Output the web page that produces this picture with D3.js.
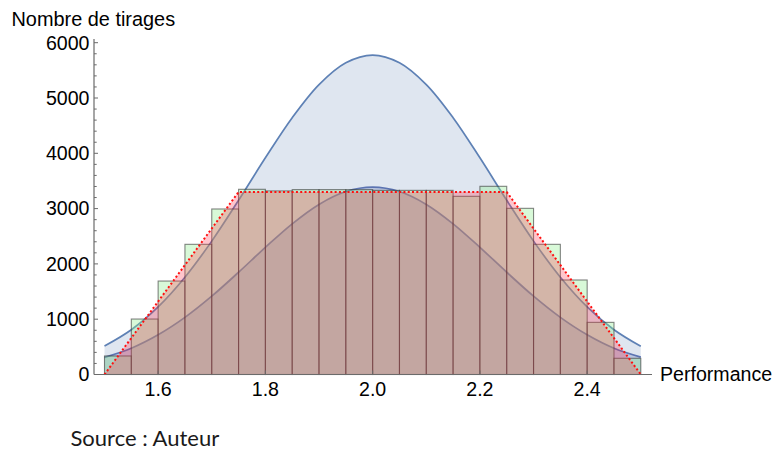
<!DOCTYPE html>
<html>
<head>
<meta charset="utf-8">
<script src="https://cdn.jsdelivr.net/npm/d3@7"></script>
<style>
  html, body { margin: 0; padding: 0; background: #fff; }
  svg { display: block; }
</style>
</head>
<body>
<svg id="chart" width="774" height="450"></svg>
<script>
// ---- data ----
const binEdges = [1.5, 1.55, 1.6, 1.65, 1.7, 1.75, 1.8, 1.85, 1.9, 1.95, 2.0,
                  2.05, 2.1, 2.15, 2.2, 2.25, 2.3, 2.35, 2.4, 2.45, 2.5];
const drawCounts = [335, 1003, 1690, 2354, 2993, 3349, 3320, 3343, 3343, 3343,
                    3330, 3330, 3330, 3222, 3403, 3005, 2354, 1709, 943, 293];
const curveX = [1.5, 1.55, 1.6, 1.65, 1.7, 1.75, 1.8, 1.85, 1.9, 1.95, 2.0,
                2.05, 2.1, 2.15, 2.2, 2.25, 2.3, 2.35, 2.4, 2.45, 2.5];
const bigCurve = [515, 810, 1223, 1760, 2412, 3150, 3918, 4644, 5243, 5638, 5777,
                  5638, 5243, 4644, 3918, 3150, 2412, 1760, 1223, 810, 510];
const smallCurve = [310, 475, 718, 1033, 1416, 1849, 2299, 2725, 3076, 3309, 3390,
                    3309, 3076, 2725, 2299, 1849, 1416, 1033, 718, 475, 315];
const trapX = [1.5, 1.75, 2.25, 2.5];
const trapY = [0, 3300, 3300, 0];
const xTicks = [1.6, 1.8, 2.0, 2.2, 2.4];
const yTicks = [0, 1000, 2000, 3000, 4000, 5000, 6000];
const yMinorTicks = d3.range(0, 6001, 200);
const yTitle = "Nombre de tirages";
const xTitle = "Performance";
const sourceText = "Source : Auteur";

// ---- layout ----
const svg = d3.select("#chart");
const x = d3.scaleLinear().domain([1.5, 2.5]).range([104.5, 640.8]);
const y = d3.scaleLinear().domain([0, 6000]).range([374.5, 42.7]);
const axisLeftX = 94, axisRightX = 652, axisTopY = 39;

const blue = "#5e81b5";

// gaussian fills
const area = (vals) => d3.area()
  .x((d, i) => x(curveX[i])).y0(y(0)).y1(d => y(d))
  .curve(d3.curveCatmullRom)(vals);
const line = (vals) => d3.line()
  .x((d, i) => x(curveX[i])).y(d => y(d))
  .curve(d3.curveCatmullRom)(vals);

svg.append("path").attr("d", area(bigCurve)).attr("fill", blue).attr("fill-opacity", 0.2);
svg.append("path").attr("d", area(smallCurve)).attr("fill", "#5a6fb0").attr("fill-opacity", 0.26);
svg.append("path").attr("d", line(bigCurve)).attr("fill", "none").attr("stroke", blue).attr("stroke-width", 1.7);
svg.append("path").attr("d", line(smallCurve)).attr("fill", "none").attr("stroke", "#5c74b2").attr("stroke-width", 1.7);

// histogram bars
const bars = drawCounts.map((v, i) => ({x0: binEdges[i], x1: binEdges[i + 1], v}));
svg.append("g").selectAll("rect").data(bars).join("rect")
  .attr("x", d => x(d.x0))
  .attr("y", d => y(d.v))
  .attr("width", d => x(d.x1) - x(d.x0))
  .attr("height", d => y(0) - y(d.v))
  .attr("fill", "#90ee90").attr("fill-opacity", 0.35)
  .attr("stroke", "#333").attr("stroke-opacity", 0.6).attr("stroke-width", 1.1);

// trapezoid (theoretical) fill + dotted outline
const trapPts = trapX.map((v, i) => [x(v), y(trapY[i])]);
svg.append("path")
  .attr("d", d3.line()(trapPts) + "Z")
  .attr("fill", "#ff3048").attr("fill-opacity", 0.28).attr("stroke", "none");
svg.append("path")
  .attr("d", d3.line()(trapPts))
  .attr("fill", "none").attr("stroke", "#ff1010").attr("stroke-width", 2)
  .attr("stroke-dasharray", "2,2.3");

// axes
const axisColor = "#6b6b6b";
svg.append("line").attr("x1", axisLeftX).attr("x2", axisLeftX)
  .attr("y1", y(0)).attr("y2", axisTopY).attr("stroke", axisColor).attr("stroke-width", 1.2);
svg.append("line").attr("x1", axisLeftX).attr("x2", axisRightX)
  .attr("y1", y(0)).attr("y2", y(0)).attr("stroke", axisColor).attr("stroke-width", 1.2);

svg.append("g").selectAll("line").data(yMinorTicks).join("line")
  .attr("x1", axisLeftX).attr("x2", d => axisLeftX + (d % 1000 === 0 ? 4 : 2.7))
  .attr("y1", d => y(d)).attr("y2", d => y(d))
  .attr("stroke", axisColor).attr("stroke-width", 1);

svg.append("g").selectAll("line").data(xTicks).join("line")
  .attr("x1", d => x(d)).attr("x2", d => x(d))
  .attr("y1", y(0)).attr("y2", y(0) - 4)
  .attr("stroke", axisColor).attr("stroke-width", 1);

const font = "'Liberation Sans', Arial, sans-serif";
svg.append("g").selectAll("text").data(yTicks).join("text")
  .attr("x", 89.5).attr("y", d => y(d) + 6.8)
  .attr("text-anchor", "end")
  .attr("font-family", font).attr("font-size", 19.6).attr("fill", "#000")
  .text(d => d);

svg.append("g").selectAll("text").data(xTicks).join("text")
  .attr("x", d => x(d)).attr("y", 395.5)
  .attr("text-anchor", "middle")
  .attr("font-family", font).attr("font-size", 19.6).attr("fill", "#000")
  .text(d => d3.format(".1f")(d));

svg.append("text").attr("x", 11.5).attr("y", 25.8)
  .attr("font-family", font).attr("font-size", 19.9).attr("fill", "#000")
  .text(yTitle);
svg.append("text").attr("x", 660).attr("y", 381)
  .attr("font-family", font).attr("font-size", 19.6).attr("fill", "#000")
  .text(xTitle);

svg.append("text").attr("x", 70.5).attr("y", 445.5)
  .attr("font-family", "Lato, 'Open Sans', sans-serif").attr("font-size", 22).attr("fill", "#1a1a1a")
  .text(sourceText);
</script>
</body>
</html>
